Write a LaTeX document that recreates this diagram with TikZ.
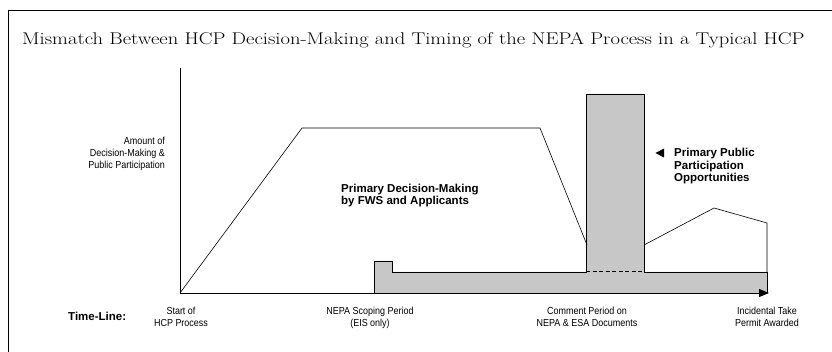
\documentclass[tikz,border=0pt]{standalone}
\usepackage{fontspec}
\setmainfont{Latin Modern Roman}
\newfontfamily\titlefont[FakeStretch=1.21]{Latin Modern Roman}
\newfontfamily\labelfont[FakeStretch=0.88]{Liberation Sans}
\newfontfamily\boldfont{Liberation Sans Bold}
\usetikzlibrary{arrows.meta}
\tikzset{
  lbl/.style={font=\labelfont\fontsize{10.2}{12}\selectfont, align=center, inner sep=0pt},
  boldlbl/.style={font=\boldfont\fontsize{11.5}{12.5}\selectfont, align=left, inner sep=0pt},
  curve/.style={draw=black, line width=0.6pt, line join=miter},
  band/.style={draw=black, line width=0.7pt, fill=black!22},
  frameline/.style={draw=black, line width=0.9pt}
}
\begin{document}
\begin{tikzpicture}[x=1pt,y=-1pt]
\useasboundingbox (0,0) rectangle (832,352);
% page frame
\draw[frameline] (832,10) -- (8,10) -- (8,352);
% title
\node[inner sep=0pt, anchor=base west, font=\titlefont\fontsize{17}{20}\selectfont] (title) at (22,45)
  {Mismatch Between HCP Decision-Making and Timing of the NEPA Process in a Typical HCP};

% named reference points
\coordinate (origin) at (180,293);
\coordinate (ytop) at (180,68);
\coordinate (riseTop) at (302,128);
\coordinate (plateauEnd) at (540,128);
\coordinate (barHitL) at (587,245);
\coordinate (barHitR) at (644,245);
\coordinate (peak) at (714,208);
\coordinate (shoulder) at (767,223);
\coordinate (permit) at (767,272);
\coordinate (axisEnd) at (769,293);

% shaded public participation band with scoping bump and comment-period bar
\path[band] (374,293) -- (374,261) -- (392,261) -- (392,272) -- (586,272)
  -- (586,94) -- (644,94) -- (644,272) -- (767,272) -- (767,293);
\draw[dashed, line width=1pt, dash pattern=on 4pt off 2.5pt] (586,272) -- (644,272);

% axes
\draw[line width=0.6pt] (ytop) -- (origin);
\draw[line width=0.9pt, -{Triangle[length=10pt,width=8pt]}] (origin) -- (axisEnd);

% decision-making curve
\draw[curve] (origin) -- (riseTop) -- (plateauEnd) -- (barHitL);
\draw[curve] (barHitR) -- (peak) -- (shoulder) -- (permit);

% labels
\node[lbl, align=right, anchor=north east] (ylabel) at (165,137)
  {Amount of\\Decision-Making \&\\Public Participation};
\node[boldlbl, anchor=north west] (dm) at (341,183.5)
  {Primary Decision-Making\\by FWS and Applicants};
\fill (655.5,153) -- (664,148.5) -- (664,157.5) -- cycle;
\node[boldlbl, anchor=north west] (pp) at (674,148)
  {Primary Public\\Participation\\Opportunities};

\node[font=\boldfont\fontsize{11.5}{13}\selectfont, inner sep=0pt, anchor=base west] (tl) at (68,320) {Time-Line:};
\node[lbl, anchor=north] (t1) at (181,306.5) {Start of\\HCP Process};
\node[lbl, anchor=north] (t2) at (370,306.5) {NEPA Scoping Period\\(EIS only)};
\node[lbl, anchor=north] (t3) at (587,306.5) {Comment Period on\\NEPA \& ESA Documents};
\node[lbl, anchor=north] (t4) at (767,306.5) {Incidental Take\\Permit Awarded};
\end{tikzpicture}
\end{document}
